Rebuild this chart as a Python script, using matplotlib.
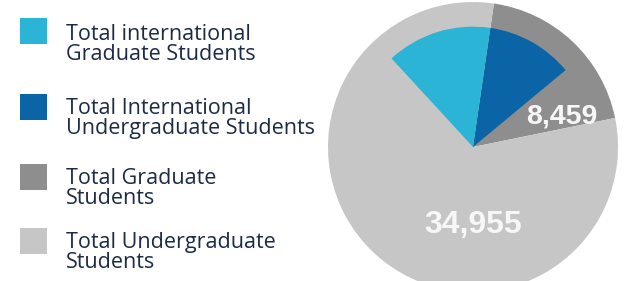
import matplotlib
matplotlib.use("Agg")
import matplotlib.pyplot as plt
from matplotlib.patches import Rectangle

# ---- data ----
legend_labels = [
    "Total international\nGraduate Students",
    "Total International\nUndergraduate Students",
    "Total Graduate\nStudents",
    "Total Undergraduate\nStudents",
]
total_graduate = 8459
total_undergraduate = 34955
intl_undergraduate = 5065   # (no label)
intl_graduate = 6140        # (no label)
value_labels = ["8,459", "34,955"]

# ---- style ----
c_cyan = "#2bb4d6"
c_blue = "#0b64a6"
c_dgray = "#8e8e8e"
c_lgray = "#c6c6c6"
c_text = "#1c2b47"
legend_colors = [c_cyan, c_blue, c_dgray, c_lgray]

W, H = 627, 281
fig = plt.figure(figsize=(W / 100, H / 100), dpi=100)
fig.patch.set_facecolor("white")

# pie axes: centre (473,147) px, radius 145 px
cx, cy, r = 473, 147, 145
ax = fig.add_axes([(cx - r) / W, (H - cy - r) / H, 2 * r / W, 2 * r / H])

total = total_graduate + total_undergraduate
boundary = 81.7  # shared edge of grey and international wedges (degrees)

outer_start = boundary - 360 * total_graduate / total
ax.pie([total_graduate, total_undergraduate], colors=[c_dgray, c_lgray],
       startangle=outer_start, counterclock=True, radius=1.0,
       wedgeprops=dict(linewidth=0))

inner_start = boundary - 360 * intl_undergraduate / total
ax.pie([intl_undergraduate, intl_graduate,
        total - intl_undergraduate - intl_graduate],
       colors=[c_blue, c_cyan, (0, 0, 0, 0)],
       startangle=inner_start, counterclock=True, radius=0.83,
       wedgeprops=dict(linewidth=0))

ax.set_xlim(-1, 1)
ax.set_ylim(-1, 1)
ax.set_aspect("equal")
ax.axis("off")

ax.text(0.61, 0.21, value_labels[0], color="#f7f7f7", fontsize=20.5,
        fontweight="bold", family="Liberation Sans", ha="center", va="center")
ax.text(0.0, -0.54, value_labels[1], color="#f7f7f7", fontsize=23,
        fontweight="bold", family="Liberation Sans", ha="center", va="center")

# ---- legend (manual) ----
last_baselines = [60, 134, 204, 268]
square_tops = [18, 94, 164, 228]
for lab, col, bl, st in zip(legend_labels, legend_colors, last_baselines, square_tops):
    fig.add_artist(Rectangle((20 / W, (H - st - 26) / H), 27 / W, 26 / H,
                             transform=fig.transFigure, facecolor=col,
                             edgecolor="none"))
    fig.text(66 / W, (H - bl) / H, lab, color=c_text, fontsize=15.5,
             family="Open Sans", ha="left", va="baseline", linespacing=0.92)

fig.savefig("out.png", dpi=100, facecolor="white")
